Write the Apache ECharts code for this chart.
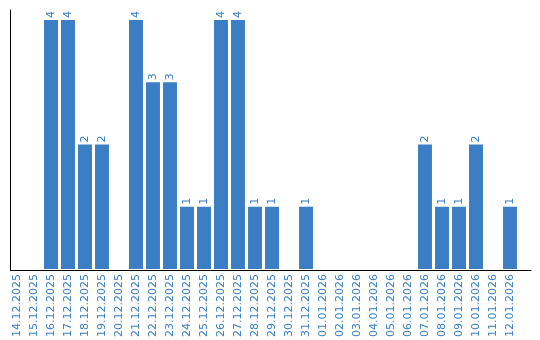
<!DOCTYPE html>
<html><head><meta charset="utf-8">
<script src="https://cdn.jsdelivr.net/npm/echarts@6/dist/echarts.min.js"></script>
<style>html,body{margin:0;padding:0;background:#fff}#c{width:540px;height:340px}</style>
</head><body><div id="c"></div>
<script>
var categories = ["14.12.2025","15.12.2025","16.12.2025","17.12.2025","18.12.2025","19.12.2025","20.12.2025","21.12.2025","22.12.2025","23.12.2025","24.12.2025","25.12.2025","26.12.2025","27.12.2025","28.12.2025","29.12.2025","30.12.2025","31.12.2025","01.01.2026","02.01.2026","03.01.2026","04.01.2026","05.01.2026","06.01.2026","07.01.2026","08.01.2026","09.01.2026","10.01.2026","11.01.2026","12.01.2026"];
var values = [0,0,4,4,2,2,0,4,3,3,1,1,4,4,1,1,0,1,0,0,0,0,0,0,2,1,1,2,0,1];
var blue = '#3b7ec3';
var chart = echarts.init(document.getElementById('c'), null, {renderer:'canvas'});
chart.setOption({
  animation: false,
  grid: [
    {left: 8.5, width: 510, top: 10, bottom: 70, containLabel: false},
    {left: 10.5, right: 9, top: 10, bottom: 70, containLabel: false}
  ],
  xAxis: [
    {type: 'category', gridIndex: 0, data: categories,
     axisLine: {show: false}, axisTick: {show: false},
     axisLabel: {rotate: 90, interval: 0, color: blue, fontSize: 11, fontFamily: 'DejaVu Sans', margin: 5}},
    {type: 'value', gridIndex: 1, min: 0, max: 1,
     axisLine: {show: true, onZero: false, lineStyle: {color: '#000', width: 1}},
     axisTick: {show: false}, axisLabel: {show: false}, splitLine: {show: false}}
  ],
  yAxis: [
    {type: 'value', gridIndex: 0, min: 0, max: 4.16,
     axisLine: {show: false}, axisTick: {show: false}, axisLabel: {show: false}, splitLine: {show: false}},
    {type: 'value', gridIndex: 1, min: 0, max: 1,
     axisLine: {show: true, onZero: false, lineStyle: {color: '#000', width: 1}},
     axisTick: {show: false}, axisLabel: {show: false}, splitLine: {show: false}}
  ],
  series: [{
    type: 'bar', xAxisIndex: 0, yAxisIndex: 0,
    data: values.map(function(v){ return v === 0 ? null : v; }),
    barCategoryGap: '18%',
    itemStyle: {color: blue},
    label: {show: true, position: 'top', rotate: 90, align: 'left', verticalAlign: 'middle',
            distance: 2, color: blue, fontSize: 11, fontFamily: 'DejaVu Sans'}
  }]
});
</script></body></html>
